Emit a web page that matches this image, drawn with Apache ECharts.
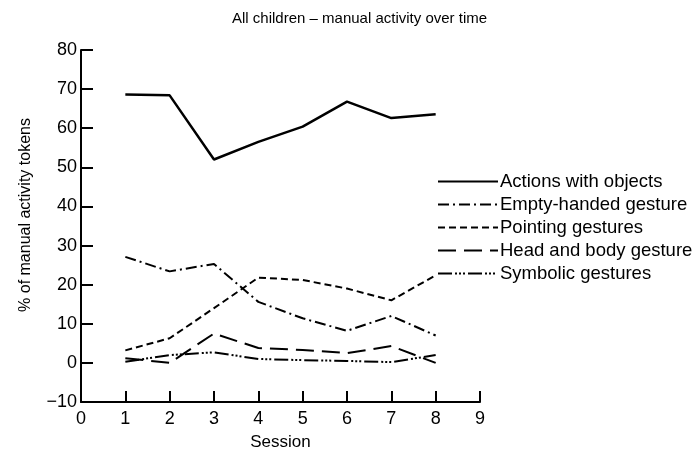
<!DOCTYPE html>
<html>
<head>
<meta charset="utf-8">
<script src="https://cdn.jsdelivr.net/npm/echarts@6/dist/echarts.min.js"></script>
<style>
  html, body { margin: 0; padding: 0; background: #fff; }
  #myChart { width: 698px; height: 465px; }
</style>
</head>
<body>
<div id="myChart"></div>
<script>
// sessions 1..8
var sessions = [1, 2, 3, 4, 5, 6, 7, 8];
var actionsWithObjects = [68.6, 68.4, 52, 56.5, 60.4, 66.8, 62.6, 63.6];
var emptyHanded = [27.1, 23.4, 25.3, 15.6, 11.4, 8.2, 12, 7];
var pointing = [3.2, 6.3, 14, 21.8, 21.2, 19, 16, 22.4];
var headBody = [1.2, 0, 7.5, 3.8, 3.3, 2.5, 4.3, 0];
var symbolic = [0.3, 2, 2.7, 1, 0.7, 0.5, 0.2, 2];
var yTicks = [-10, 0, 10, 20, 30, 40, 50, 60, 70, 80];

var fontName = "Liberation Sans";

function pairs(arr) {
  var out = [];
  for (var i = 0; i < sessions.length; i++) {
    out.push([sessions[i], arr[i]]);
  }
  return out;
}

function lineSeries(name, arr, dash, width) {
  return {
    name: name,
    type: "line",
    data: pairs(arr),
    symbol: "none",
    color: "#000",
    lineStyle: { color: "#000", width: width, type: dash },
    emphasis: { disabled: true }
  };
}

var myChart = echarts.init(document.getElementById("myChart"));
var option = {
  backgroundColor: "#fff",
  animation: false,
  textStyle: { fontFamily: fontName, color: "#000" },
  title: {
    text: "All children \u2013 manual activity over time",
    left: 227,
    top: 6,
    textStyle: { fontFamily: fontName, fontSize: 15, fontWeight: "normal", color: "#000" }
  },
  legend: {
    orient: "vertical",
    left: 432,
    top: 167,
    itemWidth: 60,
    itemHeight: 14,
    itemGap: 4,
    itemStyle: { opacity: 0 },
    textStyle: { fontFamily: fontName, fontSize: 18.5, color: "#000", padding: [0, 0, 0, -3] },
    data: ["Actions with objects", "Empty-handed gesture", "Pointing gestures", "Head and body gesture", "Symbolic gestures"]
  },
  grid: { left: 81, right: 218, top: 50, bottom: 63 },
  xAxis: {
    type: "value",
    min: 0,
    max: 9,
    interval: 1,
    name: "Session",
    nameLocation: "middle",
    nameGap: 32,
    nameTextStyle: { fontFamily: fontName, fontSize: 17, color: "#000" },
    axisLine: { onZero: false, lineStyle: { color: "#000", width: 2 } },
    axisTick: { inside: true, length: 11, lineStyle: { color: "#000", width: 2 } },
    axisLabel: { fontFamily: fontName, fontSize: 18, color: "#000", margin: 8 },
    splitLine: { show: false }
  },
  yAxis: {
    type: "value",
    min: yTicks[0],
    max: yTicks[yTicks.length - 1],
    interval: 10,
    name: "% of manual activity tokens",
    nameLocation: "middle",
    nameGap: 47,
    nameTextStyle: { fontFamily: fontName, fontSize: 16, color: "#000", padding: [0, 0, 0, 22] },
    axisLine: { show: true, lineStyle: { color: "#000", width: 2 } },
    axisTick: { show: true, inside: true, length: 12, lineStyle: { color: "#000", width: 2 } },
    axisLabel: {
      fontFamily: fontName, fontSize: 18, color: "#000", margin: 4,
      formatter: function (v) { return String(v).replace("-", "\u2212"); }
    },
    splitLine: { show: false }
  },
  series: [
    lineSeries("Actions with objects", actionsWithObjects, "solid", 2.5),
    lineSeries("Empty-handed gesture", emptyHanded, [11, 4, 2, 4], 2),
    lineSeries("Pointing gestures", pointing, [7, 4], 2),
    lineSeries("Head and body gesture", headBody, [18, 8], 2),
    lineSeries("Symbolic gestures", symbolic, [14, 3, 2, 2, 2, 2, 2, 3], 2)
  ]
};
myChart.setOption(option);
</script>
</body>
</html>
